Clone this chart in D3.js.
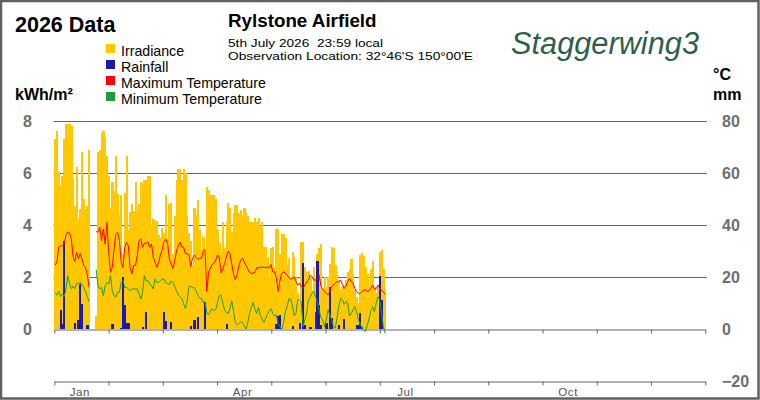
<!DOCTYPE html>
<html>
<head>
<meta charset="utf-8">
<script src="https://d3js.org/d3.v7.min.js"></script>
<style>
  body { margin: 0; background: #fff; }
  svg text { font-family: "Liberation Sans", Arial, sans-serif; }
</style>
</head>
<body>
<svg id="chart" width="760" height="400"></svg>
<script>
// daily values, index 0 = 1 Jan 2026 ... 185 = 5 Jul 2026 (null = no data)
const irradiance = [
  7.3, 7.6, 6.05, 5.55, 5.9, 7.3, 7.9, 7.9, 7.9, 7.8, 5.8, 4.75, 6.25, 4.25, 4.6, 6.8, 5.0, 4.6, 4.75, 6.9,
  null, null, null,
  0.5, 6.8, 6.9, 7.55, 7.6, 7.4, 6.65,
  5.9, 4.65, 5.65, 5.3, 6.65, 5.2, 4.4, 5.15, 2.9, 5.25,
  6.65, 3.8, 4.5, 4.8, 4.55, 5.65, 4.55, 4.8, 5.65, 5.6,
  5.75, 5.75, 5.9, 5.9, 4.0, 4.25, 4.15, 4.15, 3.6, 3.5,
  3.9, 3.7, 5.15, 3.5, 4.8, 4.85, 2.9, 4.35, 5.75, 6.15,
  6.15, 5.75, 6.15, 6.0, 4.35, 3.7, 3.4, 2.45, 4.65, 4.4,
  4.95, 3.85, 3.0, 3.55, 2.2, 5.45, 5.35, 5.15, 5.15, 5.15,
  5.0, 3.8, 3.3, 2.97, 4.1, 3.1, 4.1, 4.86, 4.64, 3.75,
  4.47, 4.77, 4.77, 4.47, 4.58, 4.38, 4.64, 4.5, 4.35, 4.1,
  4.1, 4.13, 4.26, 4.13, 4.26, 3.96, 4.1, 3.14, 3.17, 2.76,
  2.0, 3.1, 3.15, 2.4, 3.83, 3.83, 2.9, 3.65, 3.65, 3.5,
  2.46, 2.75, 2.0, 2.95, 2.76, 2.0, 1.4, 1.0, 3.33, 3.33,
  2.4, 2.2, 2.25, 2.0, 1.5, 2.4, 2.0, 2.9, 3.1, 3.27,
  1.5, 2.0, 1.6, 2.0, 2.5, 3.17, 3.1, 2.45, 2.1, 1.9,
  1.5, 1.6, 1.7, 1.9, 2.2, 2.3, 2.68, 2.1, 1.5, 1.24,
  1.0, 2.85, 2.94, 2.8, 2.4, 2.1, 1.7, 2.3, 2.6, 1.6,
  1.4, 1.6, 2.97, 3.04, 2.3, 1.5
];

const maxTemp = [
  24.5, 26, 31.5, 32, 32, 32.5, 36, 37.3, 37, 35, 28, 26, 29.5, 27, 29, 27, 24.5, 23.5, 21, 16,
  null, null, null,
  37.5, 37.2, 39.1, 34, 38.5, 32.7, 41,
  29.5, 21.8, 23.7, 30.8, 36.5, 37.2, 34, 25.6, 23.7, 31.4,
  33.3, 32, 23.7, 21.2, 24.4, 24.4, 28.2, 34, 34.6, 31.4,
  33, 33, 33.5, 31.4, 32.7, 27.6, 25.6, 23.7, 25.6,
  28.5, 30.5, 33.6, 34.5, 33, 27, 25, 23.3, 26, 30, 32,
  33.4, 31.5, 31.5, 29, 29, 28.5, 24, 27.2, 28.4, 27.6,
  26.8, 27.3, 27.3, 29.9, 30.6, 14.4, 21.8, 23.5, 24.8, 25.3,
  26.5, 28.5, 27.5, 21.6, 23.1, 25.2, 27.8, 30, 29, 25,
  21, 19, 21, 24.4, 26.5, 27.2, 25.8, 24.4, 23, 21.8,
  21.3, 21.5, 21.8, 23.6, 23.5, 23.8, 23.6, 23.9, 23.4, 24,
  23.3, 24.8, 22, 22, 19.8, 14.5, 18.5, 21.4, 22, 21.5,
  20.8, 19.8, 19.1, 19.5, 20.1, 18.2, 16.9, 17.6, 16.3, 15.6,
  16.9, 18.2, 18.8, 20.8, 20.1, 18.8, 18.8, 19.5, 20.8, 16.5,
  15.3, 14.4, 13.7, 13.1, 14.4, 16.3, 16.9, 17.6, 18.2, 18.2,
  18.8, 17.2, 15.6, 16.5, 18.2, 19.5, 18.2, 17.6, 15.6, 14.4,
  13.7, 13.7, 14.4, 15, 15, 14.4, 14.8, 15.6, 16.9, 15.3,
  15.6, 16.9, 15.6, 15, 14.2, 13.4
];

const minTemp = [
  14, 13, 14.5, 12.5, 13.5, 12.5, 15, 20.5, 17.5, 15.5, 16.5, 15.5, 17.5, 17.5, 18, 17, 16, 14.5, 12.5, 10.5,
  null, null, null,
  22.8,
  16.7, 15.4, 16, 12.8, 16.7, 17.9, 17.3, 20.5, 14.7, 12.8,
  12.2, 14.1, 14.1, 17.9, 18.6, 16, 16, 15.4, 14.7, 15.4,
  15.4, 15.4, 15.4, 13.5, 11.5, 14.1, 20.5, 18.6, 18.6, 17.3,
  16.7, 15.4, 19.2, 17.9, 17.9, 18.6, 19.2, 19.2, 17.9, 17.5, 17,
  18.5, 17.8, 16.5, 14.6, 13.1, 12.4, 11.8, 9.7, 7.9, 10.5,
  16.3, 16.4, 15.9, 15.9, 14.8, 12.8, 11.9, 11.8, 10, 10.5,
  6, 5.5, 6.9, 7.8, 7, 7.5, 10, 12.8, 13, 9.7,
  7.2, 6.3, 6, 7.9, 10.8, 6.8, 2.5, 1.6, 2.2, 2.8,
  2.5, 1.2, 0, 2.5, 6, 8.4, 10.3, 7.5, 6, 8.3,
  5.2, 3.8, 2.6, 4, 5.6, 7, 7.8, 6, 5, 5.5,
  2, 1,
  -0.1, 2.2, 6.5, 8.6, 11.5, 11.5, 9, 5, 6, 11.2,
  11.2, 9.9, 1, 3.5, 6, 11.2, 12.4, 13.7, 14.4, 12.4,
  10.5, 7, 4.5, 3.5, 0.9, 3.5, 7.3, 5.4, 3.5, 0.9,
  0.3, 4.1, 8.6, 11.8, 11.2, 9.5, 10.5, 10, 5, 6,
  7.3, 8.6, 6.7, 3.5, 2.2, 0.3, -0.5, -1, 1.5, 4,
  7, 8.6, 6.7, 10, 12.4, 11.2, 6, 0.9, -1.7
];

// rainfall only on the days it fell (day index, mm)
const rainDay = [3, 4, 5, 11, 13, 14, 15, 18, 32, 37, 38, 39, 40, 41, 49, 51, 61, 62, 65, 76, 78, 80, 84, 96,
  124, 125, 126, 133, 137, 139, 140, 143, 146, 147, 148, 149, 152, 154, 155, 159, 162, 169, 170, 171, 172, 182, 183];
const rainMm = [7.4, 2.0, 34, 2.2, 3.3, 17.5, 9.8, 1.4, 2.1, 0.5, 20, 9.1, 2.2, 2.2, 0.9, 6.7, 6.5, 3.2, 2.8, 1.3, 3.5, 4.7, 10.5, 1.9,
  2.0, 5.0, 5.2, 1.2, 2.2, 25.5, 1.5, 0.9, 6.7, 26, 9.2, 1.5, 2.4, 16, 4.1, 1.5, 3.7, 1.5, 1.5, 6, 0.9, 20.4, 11];

const monthLabels = ["Jan", "", "", "Apr", "", "", "Jul", "", "", "Oct", "", ""];
const leftTicks = [0, 2, 4, 6, 8];
const rightTicks = [-20, 0, 20, 40, 60, 80];

const legendNames = ["Irradiance", "Rainfall", "Maximum Temperature", "Minimum Temperature"];
const legendColors = ["#ffc800", "#1a1ab0", "#ff0000", "#1a9e3c"];

const svg = d3.select("#chart");
const x0 = 54.3, x1 = 705.3;

// scales
const xDay = d3.scaleLinear().domain([0, 365]).range([x0, x1]);
const xMonth = d3.scaleLinear().domain([0, 12]).range([x0, x1]);
const yLeft = d3.scaleLinear().domain([-2, 8]).range([381, 121]);
const yRight = d3.scaleLinear().domain([-20, 80]).range([381, 121]);

svg.append("rect").attr("width", 760).attr("height", 400).attr("fill", "#fff");

// grid lines
svg.append("g").selectAll("line").data([2, 4, 6, 8]).join("line")
  .attr("x1", 53.5).attr("x2", 707)
  .attr("y1", d => Math.round(yLeft(d)) + 0.5).attr("y2", d => Math.round(yLeft(d)) + 0.5)
  .attr("stroke", "#666").attr("stroke-width", 1);

// irradiance bars
const dw = xDay(1) - xDay(0);
svg.append("g").attr("shape-rendering", "crispEdges")
  .selectAll("rect").data(irradiance.map((v, i) => ({ i, v })).filter(d => d.v != null)).join("rect")
  .attr("x", d => xDay(d.i)).attr("width", dw + 0.4)
  .attr("y", d => yLeft(d.v)).attr("height", d => yLeft(0) - yLeft(d.v))
  .attr("fill", legendColors[0]);

// rainfall bars
svg.append("g").attr("shape-rendering", "crispEdges")
  .selectAll("rect").data(rainDay.map((d, k) => ({ i: d, v: rainMm[k] }))).join("rect")
  .attr("x", d => xDay(d.i)).attr("width", dw + 0.4)
  .attr("y", d => yRight(d.v)).attr("height", d => yRight(0) - yRight(d.v))
  .attr("fill", legendColors[1]);

// temperature lines
const tempLine = d3.line()
  .defined(d => d != null)
  .x((d, i) => xDay(i + 0.5))
  .y(d => yRight(d));

svg.append("path").datum(maxTemp).attr("d", tempLine)
  .attr("fill", "none").attr("stroke", legendColors[2]).attr("stroke-width", 1);
svg.append("path").datum(minTemp).attr("d", tempLine)
  .attr("fill", "none").attr("stroke", legendColors[3]).attr("stroke-width", 1);

// x axes: zero line and bottom line, with month ticks
function monthAxis(y) {
  const g = svg.append("g").attr("transform", `translate(0,${Math.round(y) + 0.5})`)
    .call(d3.axisBottom(xMonth).tickValues(d3.range(13)).tickSize(4).tickSizeOuter(0).tickFormat(""));
  g.select(".domain").attr("stroke", "#666");
  g.selectAll(".tick line").attr("stroke", "#666");
  return g;
}
monthAxis(yLeft(0));
monthAxis(yRight(-20));

svg.append("g").selectAll("text").data(monthLabels).join("text")
  .attr("x", (d, i) => xMonth(i + 0.5) - 1.5).attr("y", 395.5)
  .attr("text-anchor", "middle")
  .attr("font-size", 11.5).attr("letter-spacing", 0.6)
  .attr("fill", "#555")
  .text(d => d);

// y axis labels
const gl = svg.append("g").attr("transform", "translate(54,0)")
  .call(d3.axisLeft(yLeft).tickValues(leftTicks).tickSize(0).tickPadding(22));
gl.select(".domain").remove();
gl.selectAll("text").attr("font-size", 16).attr("font-weight", "bold").attr("fill", "#6e6e6e")
  .attr("font-family", "Liberation Sans, Arial, sans-serif");

const gr = svg.append("g").attr("transform", "translate(706,0)")
  .call(d3.axisRight(yRight).tickValues(rightTicks).tickSize(0).tickPadding(16));
gr.select(".domain").remove();
gr.selectAll("text").attr("font-size", 16).attr("font-weight", "bold").attr("fill", "#6e6e6e")
  .attr("font-family", "Liberation Sans, Arial, sans-serif");

// titles
svg.append("text").attr("x", 15).attr("y", 32)
  .attr("font-size", 21.5).attr("font-weight", "bold").attr("fill", "#000").text("2026 Data");
svg.append("text").attr("x", 228).attr("y", 27)
  .attr("font-size", 18.8).attr("font-weight", "bold").attr("fill", "#000").text("Rylstone Airfield");
svg.append("text").attr("x", 228).attr("y", 47.2)
  .attr("font-size", 11.6).attr("fill", "#000").style("white-space", "pre")
  .attr("textLength", 155).attr("lengthAdjust", "spacingAndGlyphs")
  .text("5th July 2026  23:59 local");
svg.append("text").attr("x", 228).attr("y", 60.2)
  .attr("font-size", 11.6).attr("fill", "#000")
  .attr("textLength", 245).attr("lengthAdjust", "spacingAndGlyphs")
  .text("Observation Location: 32°46'S 150°00'E");

// units
svg.append("text").attr("x", 15).attr("y", 100)
  .attr("font-size", 16).attr("font-weight", "bold").text("kWh/m²");
svg.append("text").attr("x", 713).attr("y", 80)
  .attr("font-size", 16).attr("font-weight", "bold").text("°C");
svg.append("text").attr("x", 713).attr("y", 100)
  .attr("font-size", 16).attr("font-weight", "bold").text("mm");

// legend
const lg = svg.append("g").selectAll("g").data(legendNames).join("g")
  .attr("transform", (d, i) => `translate(106,${44 + i * 16})`);
lg.append("rect").attr("width", 9).attr("height", 9).attr("fill", (d, i) => legendColors[i]);
lg.append("text").attr("x", 15).attr("y", 12).attr("font-size", 14.2).attr("fill", "#000").text(d => d);

// logo
svg.append("text").attr("x", 511).attr("y", 54)
  .attr("font-family", "DejaVu Serif, serif").attr("font-style", "italic")
  .attr("font-size", 31).attr("fill", "#2f5f4c")
  .attr("textLength", 188).attr("lengthAdjust", "spacingAndGlyphs")
  .text("Staggerwing3");

// frame
svg.append("rect").attr("x", 1).attr("y", 1).attr("width", 757.5).attr("height", 397.5)
  .attr("fill", "none").attr("stroke", "#606060").attr("stroke-width", 2.5);
</script>
</body>
</html>
